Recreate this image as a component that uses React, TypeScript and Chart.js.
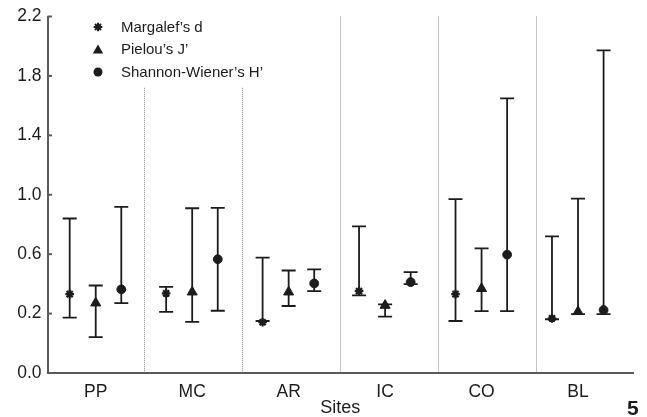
import React, { useEffect, useRef } from 'react';
import { Chart, registerables } from 'chart.js';

Chart.register(...registerables);

// ---- Data ----
const sites = ['PP', 'MC', 'AR', 'IC', 'CO', 'BL'];
const seriesNames = ['Margalef\u2019s d', 'Pielou\u2019s J\u2019', 'Shannon-Wiener\u2019s H\u2019'];

const margalefMean = [0.331, 0.336, 0.142, 0.351, 0.331, 0.168];
const margalefLow = [0.173, 0.211, 0.150, 0.323, 0.150, 0.162];
const margalefHigh = [0.840, 0.380, 0.577, 0.787, 0.970, 0.720];

const pielouMean = [0.271, 0.345, 0.345, 0.255, 0.368, 0.213];
const pielouLow = [0.041, 0.144, 0.251, 0.179, 0.217, 0.197];
const pielouHigh = [0.389, 0.909, 0.490, 0.262, 0.639, 0.974];

const shannonMean = [0.363, 0.566, 0.403, 0.412, 0.597, 0.224];
const shannonLow = [0.271, 0.219, 0.351, 0.398, 0.217, 0.197];
const shannonHigh = [0.919, 0.912, 0.497, 0.479, 1.649, 1.972];

const yTickValues = [-0.2, 0.2, 0.6, 1.0, 1.4, 1.8, 2.2];
const yTickLabels = ['0.0', '0.2', '0.6', '1.0', '1.4', '1.8', '2.2'];

// ---- Style / layout ----
const FONT = "'Liberation Sans', Arial, Helvetica, sans-serif";
const INK = '#1c1c1c';
const AXIS = '#5a5a5a';
const seriesOffsets = [-0.27, 0, 0.265];
const separatorValues = [1.0, 2.015, 3.03, 4.045, 5.06];
const separatorTops = [1.72, 1.72, 2.2, 2.2, 2.2];

function drawMarker(ctx: CanvasRenderingContext2D, style: string, x: number, y: number, r: number) {
  ctx.save();
  ctx.fillStyle = INK;
  ctx.strokeStyle = INK;
  ctx.beginPath();
  if (style === 'circle') {
    ctx.arc(x, y, r, 0, Math.PI * 2);
    ctx.fill();
  } else if (style === 'triangle') {
    for (let k = 0; k < 3; k++) {
      const a = (k * 2 * Math.PI) / 3;
      const px = x + Math.sin(a) * r;
      const py = y + 1 - Math.cos(a) * r;
      if (k === 0) ctx.moveTo(px, py);
      else ctx.lineTo(px, py);
    }
    ctx.closePath();
    ctx.fill();
  } else {
    ctx.lineWidth = 2;
    for (let k = 0; k < 4; k++) {
      const a = (k * Math.PI) / 4;
      ctx.moveTo(x - Math.cos(a) * r, y - Math.sin(a) * r);
      ctx.lineTo(x + Math.cos(a) * r, y + Math.sin(a) * r);
    }
    ctx.stroke();
  }
  ctx.restore();
}

const decorPlugin = {
  id: 'decor',
  beforeDatasetsDraw(chart: any) {
    const { ctx, chartArea, scales } = chart;
    const xs = scales.x;
    const ys = scales.y;
    // dotted site separators
    ctx.save();
    ctx.strokeStyle = '#8c8c8c';
    ctx.lineWidth = 1;
    ctx.setLineDash([1, 1]);
    separatorValues.forEach((v, i) => {
      const px = Math.round(xs.getPixelForValue(v)) + 0.5;
      ctx.beginPath();
      ctx.moveTo(px, ys.getPixelForValue(separatorTops[i]));
      ctx.lineTo(px, chartArea.bottom - 1);
      ctx.stroke();
    });
    ctx.restore();
    // error bars
    ctx.save();
    ctx.strokeStyle = INK;
    ctx.lineWidth = 1.8;
    chart.data.datasets.forEach((ds: any) => {
      ds.data.forEach((p: any, i: number) => {
        const px = xs.getPixelForValue(p.x);
        const yl = ys.getPixelForValue(ds.low[i]);
        const yh = ys.getPixelForValue(ds.high[i]);
        ctx.beginPath();
        ctx.moveTo(px, yh);
        ctx.lineTo(px, yl);
        ctx.moveTo(px - 7, yh);
        ctx.lineTo(px + 7, yh);
        ctx.moveTo(px - 7, yl);
        ctx.lineTo(px + 7, yl);
        ctx.stroke();
      });
    });
    ctx.restore();
  },
  afterDraw(chart: any) {
    const { ctx, chartArea, scales } = chart;
    const ys = scales.y;
    // inward y tick marks
    ctx.save();
    ctx.strokeStyle = AXIS;
    ctx.lineWidth = 2;
    ys.ticks.forEach((t: any) => {
      const py = ys.getPixelForValue(t.value);
      ctx.beginPath();
      ctx.moveTo(chartArea.left, py);
      ctx.lineTo(chartArea.left + 4.5, py);
      ctx.stroke();
    });
    ctx.restore();
    // legend
    const styles = ['star', 'triangle', 'circle'];
    const sizes = [4.3, 6, 4.5];
    ctx.save();
    ctx.font = `15px ${FONT}`;
    ctx.fillStyle = INK;
    ctx.textBaseline = 'middle';
    ctx.textAlign = 'left';
    seriesNames.forEach((name, i) => {
      const cy = chartArea.top + 10.5 + i * 22.5;
      drawMarker(ctx, styles[i], chartArea.left + 50.5, cy, sizes[i]);
      ctx.fillText(name, chartArea.left + 73.5, cy + 0.5);
    });
    ctx.restore();
  },
};

function makeDataset(label: string, style: string, offset: number, mean: number[], low: number[], high: number[], radius: number) {
  return {
    type: 'scatter',
    label,
    data: mean.map((v, i) => ({ x: i + 0.5 + offset, y: v })),
    low,
    high,
    pointStyle: style,
    pointRadius: radius,
    pointHoverRadius: radius,
    pointBorderWidth: style === 'star' ? 2.2 : 1,
    backgroundColor: INK,
    borderColor: INK,
    showLine: false,
  };
}

export default function App() {
  const canvasRef = useRef<HTMLCanvasElement | null>(null);

  useEffect(() => {
    const canvas = canvasRef.current;
    if (!canvas) return;
    const chart = new Chart(canvas, {
      type: 'scatter',
      data: {
        datasets: [
          makeDataset(seriesNames[0], 'star', seriesOffsets[0], margalefMean, margalefLow, margalefHigh, 4.3),
          makeDataset(seriesNames[1], 'triangle', seriesOffsets[1], pielouMean, pielouLow, pielouHigh, 5.8),
          makeDataset(seriesNames[2], 'circle', seriesOffsets[2], shannonMean, shannonLow, shannonHigh, 4.4),
        ] as any,
      },
      options: {
        responsive: false,
        animation: false,
        devicePixelRatio: 1,
        layout: { padding: { top: 15, right: 14, bottom: 0, left: 0 } },
        plugins: {
          legend: { display: false },
          tooltip: { enabled: false },
        },
        scales: {
          x: {
            type: 'linear',
            min: 0,
            max: 6.07,
            afterBuildTicks: (s: any) => {
              s.ticks = sites.map((_, i) => ({ value: i + 0.5 }));
            },
            afterFit: (s: any) => {
              s.height = 44;
            },
            ticks: {
              callback: (_v: any, i: number) => sites[i],
              font: { family: FONT, size: 17.5 },
              color: INK,
              padding: 9,
              maxRotation: 0,
              autoSkip: false,
            },
            grid: { display: false, drawTicks: false },
            border: { display: true, color: AXIS, width: 2 },
            title: {
              display: true,
              text: 'Sites',
              font: { family: FONT, size: 18, lineHeight: 1 },
              color: INK,
              padding: 0,
            },
          },
          y: {
            type: 'linear',
            min: -0.2,
            max: 2.2,
            afterBuildTicks: (s: any) => {
              s.ticks = yTickValues.map((v) => ({ value: v }));
            },
            afterFit: (s: any) => {
              s.width = 47.5;
            },
            ticks: {
              callback: (_v: any, i: number) => yTickLabels[i],
              font: { family: FONT, size: 17.5 },
              color: INK,
              padding: 6,
              autoSkip: false,
            },
            grid: { display: false, drawTicks: false },
            border: { display: true, color: AXIS, width: 2 },
          },
        },
      } as any,
      plugins: [decorPlugin as any],
    });
    return () => chart.destroy();
  }, []);

  return (
    <div style={{ position: 'fixed', left: 0, top: 0, width: 647, height: 417, background: '#fff' }}>
      <canvas ref={canvasRef} width={647} height={417} style={{ display: 'block', width: 647, height: 417 }} />
      <span
        style={{
          position: 'absolute',
          left: 627,
          top: 396.5,
          font: `bold 21px ${FONT}`,
          lineHeight: '21px',
          color: INK,
        }}
      >
        5
      </span>
    </div>
  );
}
